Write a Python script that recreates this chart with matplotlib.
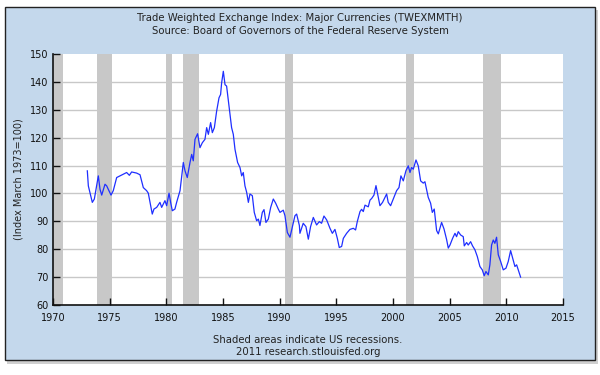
import numpy as np
import matplotlib
matplotlib.use("Agg")
import matplotlib.pyplot as plt
from matplotlib.patches import Rectangle

# decimal year / index values
years = [1973.03, 1973.12, 1973.26, 1973.47, 1973.65, 1974.00, 1974.15, 1974.30, 1974.59, 1974.74,
         1975.12, 1975.32, 1975.62, 1975.91, 1976.21, 1976.50, 1976.74, 1976.94, 1977.38, 1977.68,
         1977.97, 1978.26, 1978.41, 1978.56, 1978.76, 1978.91, 1979.15, 1979.44, 1979.59, 1979.88,
         1980.03, 1980.24, 1980.38, 1980.53, 1980.76, 1980.91, 1981.21, 1981.50, 1981.65, 1981.85,
         1982.09, 1982.24, 1982.38, 1982.53, 1982.76, 1982.97, 1983.18, 1983.41, 1983.56, 1983.71,
         1983.91, 1984.06, 1984.24, 1984.44, 1984.65, 1984.79, 1984.88, 1985.03, 1985.18, 1985.32,
         1985.53, 1985.76, 1985.91, 1986.06, 1986.29, 1986.50, 1986.65, 1986.79, 1986.94, 1987.09,
         1987.24, 1987.38, 1987.59, 1987.76, 1987.97, 1988.12, 1988.26, 1988.47, 1988.62, 1988.79,
         1989.00, 1989.21, 1989.44, 1989.65, 1989.88, 1990.03, 1990.32, 1990.47, 1990.68, 1990.91,
         1991.15, 1991.35, 1991.50, 1991.74, 1991.79, 1992.08, 1992.32, 1992.53, 1992.73, 1992.97,
         1993.26, 1993.50, 1993.70, 1993.91, 1994.15, 1994.44, 1994.65, 1994.88, 1995.09, 1995.26,
         1995.47, 1995.62, 1995.91, 1996.20, 1996.50, 1996.70, 1996.85, 1997.09, 1997.23, 1997.38,
         1997.53, 1997.82, 1997.97, 1998.12, 1998.32, 1998.50, 1998.85, 1999.08, 1999.44, 1999.58,
         1999.79, 2000.03, 2000.32, 2000.53, 2000.70, 2000.91, 2001.14, 2001.35, 2001.50, 2001.64,
         2001.79, 2002.03, 2002.23, 2002.44, 2002.67, 2002.82, 2003.11, 2003.32, 2003.47, 2003.64,
         2003.85, 2004.00, 2004.29, 2004.50, 2004.73, 2004.88, 2005.03, 2005.26, 2005.47, 2005.61,
         2005.76, 2005.97, 2006.20, 2006.29, 2006.50, 2006.64, 2006.85, 2007.02, 2007.23, 2007.44,
         2007.67, 2007.88, 2008.05, 2008.20, 2008.41, 2008.55, 2008.70, 2008.85, 2008.99, 2009.14,
         2009.29, 2009.50, 2009.73, 2009.97, 2010.17, 2010.38, 2010.56, 2010.76, 2010.91, 2011.05,
         2011.26]
index = [108.1, 102.7, 100.4, 96.8, 98.0, 106.3, 101.5, 99.4, 103.3, 102.7,
         99.4, 101.0, 105.7, 106.3, 106.9, 107.5, 106.5, 107.7, 107.3, 106.7,
         102.1, 101.0, 100.1, 96.8, 92.6, 94.4, 95.0, 96.8, 95.0, 97.4,
         95.6, 100.1, 96.8, 93.8, 94.4, 96.8, 101.0, 111.1, 108.1, 105.7,
         111.1, 114.0, 111.7, 119.4, 121.4, 116.4, 118.2, 119.4, 123.6, 121.2,
         125.4, 121.8, 123.6, 129.5, 134.3, 135.5, 139.6, 143.8, 139.0, 138.5,
         131.3, 123.6, 121.2, 115.8, 111.1, 109.3, 106.3, 107.5, 102.7, 100.4,
         96.8, 99.8, 99.2, 93.2, 90.2, 90.8, 88.5, 93.2, 94.2, 89.6,
         90.8, 95.0, 98.0, 96.5, 94.4, 93.2, 94.0, 92.0, 86.0, 84.3,
         88.5, 92.0, 92.6, 88.5, 85.7, 89.3, 88.1, 83.6, 88.1, 91.4,
         88.7, 89.9, 89.3, 91.9, 90.5, 87.5, 85.7, 87.1, 83.9, 80.6,
         81.0, 83.9, 85.7, 87.1, 87.5, 86.9, 89.9, 93.5, 94.3, 93.5,
         95.8, 95.2, 97.6, 98.2, 99.4, 102.8, 95.6, 96.8, 99.8, 96.8,
         95.6, 98.0, 101.0, 102.1, 106.3, 104.5, 108.1, 109.9, 107.5, 109.3,
         108.7, 112.0, 109.9, 104.5, 103.7, 104.2, 98.6, 96.5, 93.2, 94.4,
         86.7, 85.5, 89.6, 87.3, 83.5, 80.4, 81.5, 83.9, 85.7, 84.5,
         86.3, 85.1, 84.5, 81.2, 82.4, 81.5, 82.7, 81.2, 79.8, 77.4,
         73.8, 72.6, 70.5, 72.0, 70.8, 74.4, 81.5, 83.3, 82.1, 84.3,
         78.0, 75.6, 72.6, 73.2, 75.6, 79.5, 76.8, 73.8, 74.4, 72.6,
         70.0]

rec_start = [1969.92, 1973.88, 1980.0, 1981.5, 1990.5, 2001.17, 2007.92]
rec_end = [1970.88, 1975.17, 1980.5, 1982.88, 1991.17, 2001.88, 2009.5]

xticks = [1970, 1975, 1980, 1985, 1990, 1995, 2000, 2005, 2010, 2015]
yticks = [60, 70, 80, 90, 100, 110, 120, 130, 140, 150]

plt.rcParams['font.family'] = 'DejaVu Sans'
fig = plt.figure(figsize=(6, 3.75), dpi=100)
fig.patch.set_facecolor('white')

# drop shadow + light blue panel
fig.patches.append(Rectangle((0.0115, 0.030), 0.985, 0.944, transform=fig.transFigure,
                             facecolor='#d0d0d0', edgecolor='none', zorder=-3))
fig.patches.append(Rectangle((0.0083, 0.040), 0.983, 0.941, transform=fig.transFigure,
                             facecolor='#c4d8ec', edgecolor='#222222', lw=1, zorder=-2))

ax = fig.add_axes([0.0883, 0.1867, 0.85, 0.6693])
ax.set_facecolor('white')

for s, e in zip(rec_start, rec_end):
    ax.axvspan(s, e, color='#c8c8c8', lw=0, zorder=1)

for y in yticks[1:-1]:
    ax.axhline(y, color='#c8c8c8', lw=1, zorder=0.5)

ax.plot(years, index, color='#1f2fff', lw=0.9, zorder=3)

ax.set_xlim(1970, 2015)
ax.set_ylim(60, 150)
ax.set_xticks(xticks)
ax.set_yticks(yticks)
ax.tick_params(direction='in', length=5, width=1, labelsize=7, colors='#111111')
ax.tick_params(axis='y', pad=3)
ax.tick_params(axis='x', pad=6)
for side in ['top', 'right']:
    ax.spines[side].set_visible(False)
for side in ['left', 'bottom']:
    ax.spines[side].set_color('#111111')
    ax.spines[side].set_linewidth(1.2)

ax.set_ylabel('(Index March 1973=100)', fontsize=7, color='#222222', labelpad=5)

fig.text(0.5, 0.952, 'Trade Weighted Exchange Index: Major Currencies (TWEXMMTH)',
         ha='center', va='center', fontsize=7.3, color='#222222')
fig.text(0.5, 0.917, 'Source: Board of Governors of the Federal Reserve System',
         ha='center', va='center', fontsize=7.3, color='#222222')
fig.text(0.513, 0.093, 'Shaded areas indicate US recessions.',
         ha='center', va='center', fontsize=7.3, color='#222222')
fig.text(0.513, 0.061, '2011 research.stlouisfed.org',
         ha='center', va='center', fontsize=7.3, color='#222222')

fig.savefig('out.png', dpi=100)
